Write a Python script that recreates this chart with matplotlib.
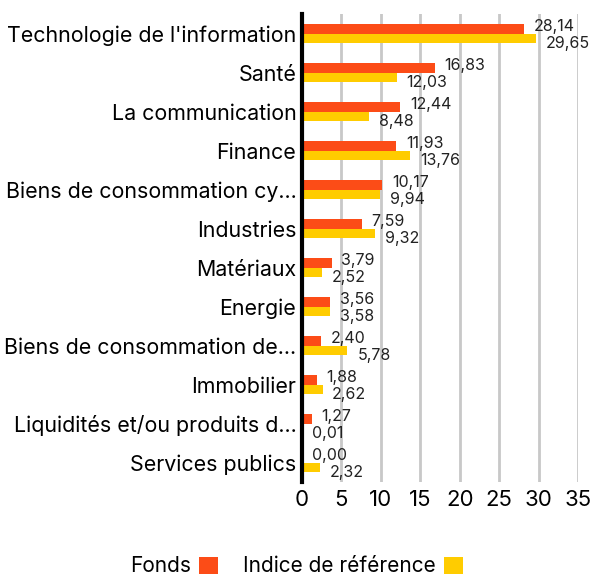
import numpy as np
import matplotlib.pyplot as plt

plt.rcParams['font.family'] = ['Inter', 'DejaVu Sans']

categories = [
    "Technologie de l'information",
    "Santé",
    "La communication",
    "Finance",
    "Biens de consommation cy…",
    "Industries",
    "Matériaux",
    "Energie",
    "Biens de consommation de…",
    "Immobilier",
    "Liquidités et/ou produits d…",
    "Services publics",
]
fonds = [28.14, 16.83, 12.44, 11.93, 10.17, 7.59, 3.79, 3.56, 2.40, 1.88, 1.27, 0.00]
indice = [29.65, 12.03, 8.48, 13.76, 9.94, 9.32, 2.52, 3.58, 5.78, 2.62, 0.01, 2.32]

RED = '#FC4C17'
YELLOW = '#FFCC00'

fig = plt.figure(figsize=(5.93, 5.79), dpi=100)
ax = fig.add_axes([0.509, 0.1675, 0.466, 0.8083])

y = np.arange(len(categories))
h = 0.25
ax.barh(y - h / 2, fonds, height=h, color=RED, label='Fonds', zorder=3)
ax.barh(y + h / 2, indice, height=h, color=YELLOW, label='Indice de référence', zorder=3)

def fmt(v):
    return f'{v:.2f}'.replace('.', ',')

for i in range(len(categories)):
    ax.annotate(fmt(fonds[i]), (fonds[i], y[i] - h / 2), xytext=(7, 1.5),
                textcoords='offset points', va='center', ha='left', fontsize=11.5, color='#222222')
    ax.annotate(fmt(indice[i]), (indice[i], y[i] + h / 2), xytext=(7, -3.5),
                textcoords='offset points', va='center', ha='left', fontsize=11.5, color='#222222')

ax.set_xlim(0, 35)
ax.set_ylim(len(categories) - 0.5, -0.5)
ax.set_xticks(range(0, 36, 5))
ax.set_yticks(y)
ax.set_yticklabels(categories, fontsize=15.4)
ax.tick_params(axis='x', labelsize=16, length=0, pad=6)
ax.tick_params(axis='y', length=0, pad=4)
ax.grid(axis='x', color='#C8C8C8', linewidth=2, zorder=0)
for s in ['top', 'right', 'bottom']:
    ax.spines[s].set_visible(False)
ax.spines['left'].set_linewidth(3)
ax.spines['left'].set_zorder(4)

fig.legend(loc='lower center', bbox_to_anchor=(0.5, -0.028), ncol=2, frameon=False,
           markerfirst=False, fontsize=15, handlelength=0.9, handleheight=0.9,
           columnspacing=1.2, handletextpad=0.4)

fig.savefig('out.png', dpi=100)
